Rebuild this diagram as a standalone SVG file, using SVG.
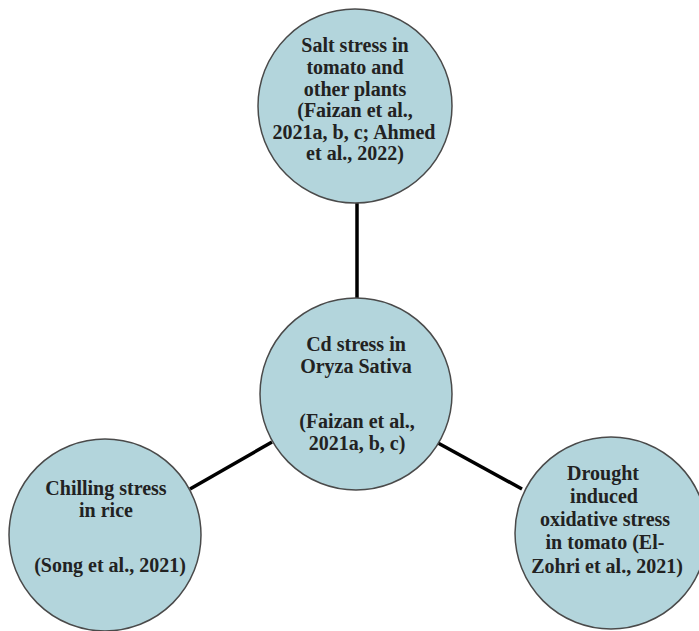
<svg xmlns="http://www.w3.org/2000/svg" width="699" height="631" viewBox="0 0 699 631">
  <style>
    .node circle { fill: #b3d5dc; stroke: #4a4a4a; stroke-width: 1.5; }
    .node text { font-family: "Liberation Serif", "Times New Roman", serif; font-weight: bold; font-size: 20px; fill: #222; text-anchor: middle; }
    .conn line { stroke: #000; stroke-width: 3.5; stroke-linecap: butt; }
  </style>
  <rect width="699" height="631" fill="#fff"/>
  <g id="connectors" class="conn">
    <line x1="357" y1="202" x2="357" y2="298"/>
    <line x1="272" y1="442" x2="190" y2="489"/>
    <line x1="438" y1="443" x2="522" y2="489"/>
  </g>
  <g id="node-salt" class="node">
    <circle cx="355" cy="106" r="97"/>
    <text x="355" y="52">Salt stress in</text>
    <text x="355" y="74">tomato and</text>
    <text x="355" y="96">other plants</text>
    <text x="355" y="117">(Faizan et al.,</text>
    <text x="354" y="139">2021a, b, c; Ahmed</text>
    <text x="355" y="160">et al., 2022)</text>
  </g>
  <g id="node-cd" class="node">
    <circle cx="356" cy="394" r="96"/>
    <text x="356" y="351">Cd stress in</text>
    <text x="356" y="373">Oryza Sativa</text>
    <text x="357" y="428">(Faizan et al.,</text>
    <text x="357" y="450">2021a, b, c)</text>
  </g>
  <g id="node-chilling" class="node">
    <circle cx="105" cy="535" r="96"/>
    <text x="106" y="495">Chilling stress</text>
    <text x="106" y="517">in rice</text>
    <text x="110" y="572">(Song et al., 2021)</text>
  </g>
  <g id="node-drought" class="node">
    <circle cx="611" cy="533" r="96"/>
    <text x="603" y="480">Drought</text>
    <text x="604" y="503">induced</text>
    <text x="605" y="526">oxidative stress</text>
    <text x="605" y="549">in tomato (El-</text>
    <text x="607" y="573">Zohri et al., 2021)</text>
  </g>
</svg>
